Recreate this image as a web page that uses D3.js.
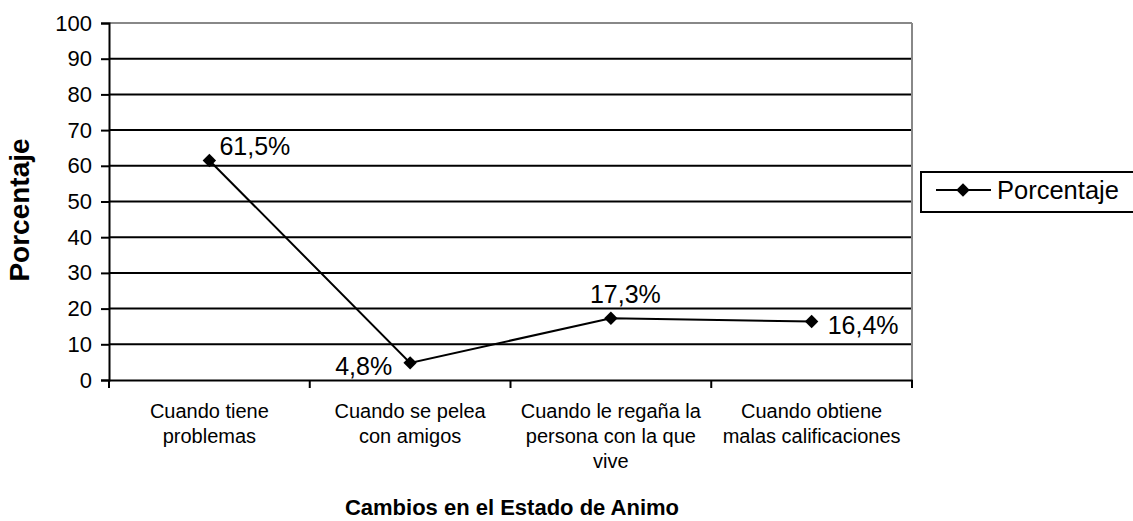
<!DOCTYPE html>
<html>
<head>
<meta charset="utf-8">
<script src="https://cdn.jsdelivr.net/npm/d3@7"></script>
<style>
  body { margin: 0; background: #fff; }
  text { font-family: "Liberation Sans", Arial, sans-serif; fill: #000; }
</style>
</head>
<body>
<div id="chart"></div>
<script>
const categories = ['Cuando tiene problemas', 'Cuando se pelea con amigos', 'Cuando le regaña la persona con la que vive', 'Cuando obtiene malas calificaciones'];
const categoryLines = [
    ['Cuando tiene', 'problemas'],
    ['Cuando se pelea', 'con amigos'],
    ['Cuando le regaña la', 'persona con la que', 'vive'],
    ['Cuando obtiene', 'malas calificaciones']
];
const values = [61.5, 4.8, 17.3, 16.4];
const valueLabels = ['61,5%', '4,8%', '17,3%', '16,4%'];
const yTicks = [0, 10, 20, 30, 40, 50, 60, 70, 80, 90, 100];
const seriesName = 'Porcentaje';

const width = 1133, height = 521;
const plot = { left: 109, right: 912, top: 23, bottom: 380 };

const svg = d3.select('#chart').append('svg')
    .attr('width', width)
    .attr('height', height);

const x = d3.scaleBand().domain(categories).range([plot.left, plot.right]);
const y = d3.scaleLinear().domain([0, 100]).range([plot.bottom, plot.top]);

// gridlines
svg.append('g')
    .selectAll('line')
    .data(yTicks.filter(d => d > 0))
    .join('line')
    .attr('x1', plot.left).attr('x2', plot.right)
    .attr('y1', d => y(d)).attr('y2', d => y(d))
    .attr('stroke', d => d === 100 ? '#888' : '#000')
    .attr('stroke-width', 2);

// right border
svg.append('line')
    .attr('x1', plot.right).attr('x2', plot.right)
    .attr('y1', plot.top).attr('y2', plot.bottom)
    .attr('stroke', '#888').attr('stroke-width', 2);

// y axis
const yAxis = svg.append('g')
    .attr('transform', `translate(${plot.left},0)`)
    .call(d3.axisLeft(y).tickValues(yTicks).tickSize(8).tickPadding(9));
yAxis.select('.domain').attr('stroke', '#000').attr('stroke-width', 2);
yAxis.selectAll('.tick line').attr('stroke', '#000').attr('stroke-width', 2);
yAxis.selectAll('.tick text')
    .attr('font-size', 22)
    .style('font-family', '"Liberation Sans", Arial, sans-serif');

// x axis
const xAxis = svg.append('g')
    .attr('transform', `translate(0,${plot.bottom})`)
    .call(d3.axisBottom(x).tickSize(0).tickFormat(''));
xAxis.select('.domain').attr('stroke', '#000').attr('stroke-width', 2);
const bounds = categories.map(c => x(c)).concat([plot.right]);
svg.append('g')
    .selectAll('line')
    .data(bounds)
    .join('line')
    .attr('x1', d => d).attr('x2', d => d)
    .attr('y1', plot.bottom).attr('y2', plot.bottom + 8)
    .attr('stroke', '#000').attr('stroke-width', 2);

// category labels
const catG = svg.append('g');
categories.forEach((c, i) => {
    const t = catG.append('text')
        .attr('x', x(c) + x.bandwidth() / 2)
        .attr('y', 418)
        .attr('text-anchor', 'middle')
        .attr('font-size', 20);
    categoryLines[i].forEach((line, j) => {
        t.append('tspan')
            .attr('x', x(c) + x.bandwidth() / 2)
            .attr('dy', j === 0 ? 0 : 25)
            .text(line);
    });
});

// line
const cx = (d, i) => x(categories[i]) + x.bandwidth() / 2;
svg.append('path')
    .datum(values)
    .attr('d', d3.line().x(cx).y(d => y(d)))
    .attr('fill', 'none')
    .attr('stroke', '#000')
    .attr('stroke-width', 2);

const diamond = d3.symbol().type(d3.symbolDiamond2 || d3.symbolDiamond).size(115);
svg.append('g')
    .selectAll('path')
    .data(values)
    .join('path')
    .attr('d', diamond)
    .attr('transform', (d, i) => `translate(${cx(d, i)},${y(d)})`)
    .attr('fill', '#000');

// data labels
const labelPos = [
    { dx: 10, dy: -5, anchor: 'start' },
    { dx: -18, dy: 12, anchor: 'end' },
    { dx: -21, dy: -15, anchor: 'start' },
    { dx: 16, dy: 13, anchor: 'start' }
];
svg.append('g')
    .selectAll('text')
    .data(values)
    .join('text')
    .attr('x', (d, i) => cx(d, i) + labelPos[i].dx)
    .attr('y', (d, i) => y(d) + labelPos[i].dy)
    .attr('text-anchor', (d, i) => labelPos[i].anchor)
    .attr('font-size', 25)
    .text((d, i) => valueLabels[i]);

// axis titles
svg.append('text')
    .attr('transform', `translate(29,210) rotate(-90)`)
    .attr('text-anchor', 'middle')
    .attr('font-size', 28)
    .attr('font-weight', 'bold')
    .text('Porcentaje');

svg.append('text')
    .attr('x', 512)
    .attr('y', 515)
    .attr('text-anchor', 'middle')
    .attr('font-size', 22)
    .attr('font-weight', 'bold')
    .text('Cambios en el Estado de Animo');

// legend
const legend = svg.append('g');
legend.append('rect')
    .attr('x', 921).attr('y', 172)
    .attr('width', 230).attr('height', 40)
    .attr('fill', '#fff').attr('stroke', '#000').attr('stroke-width', 2);
legend.append('line')
    .attr('x1', 936).attr('x2', 991)
    .attr('y1', 190).attr('y2', 190)
    .attr('stroke', '#000').attr('stroke-width', 2);
legend.append('path')
    .attr('d', diamond)
    .attr('transform', 'translate(963,190)')
    .attr('fill', '#000');
legend.append('text')
    .attr('x', 997).attr('y', 199)
    .attr('font-size', 25.5)
    .text(seriesName);
</script>
</body>
</html>
